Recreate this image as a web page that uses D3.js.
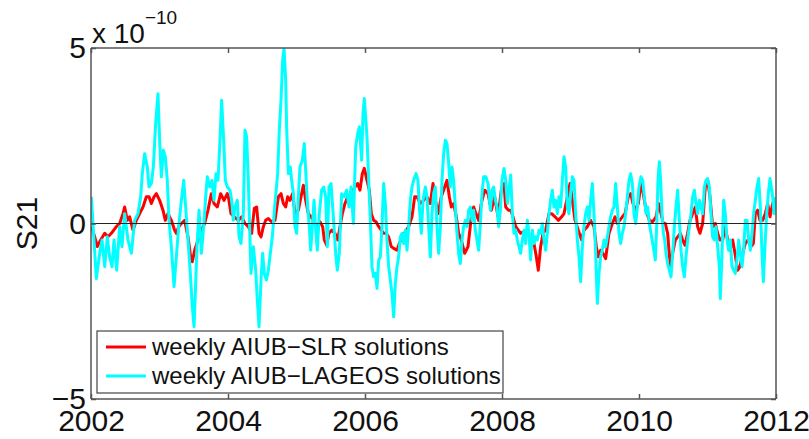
<!doctype html>
<html>
 <head>
 <title>S21</title>
	<script src="https://d3js.org/d3.v7.min.js"></script>
	<style>
body {
    margin: 0;
    background: #fff;
    font-family: 'Liberation Sans', Arial, Helvetica, sans-serif;
}
	</style>
  </head>
  <body>
    <div id="container"></div>
	 <script>

// year ticks on the x axis
var yearTicks = [2002, 2004, 2006, 2008, 2010, 2012];
var valueTicks = [-5, 0, 5];

// weekly AIUB-LAGEOS solutions (units of 1e-10)
var lageosTime = [
 2002.005,2002.078,2002.127,2002.161,2002.200,2002.238,2002.272,2002.307,2002.336,2002.375,2002.418,2002.453,2002.491,2002.540,2002.589,2002.637,2002.686,2002.725,2002.749,2002.783,2002.822,2002.847,2002.881,2002.910,2002.944,2002.978,
 2003.002,2003.027,2003.056,2003.085,2003.114,2003.139,2003.173,2003.212,2003.246,2003.280,2003.319,2003.353,2003.382,2003.416,2003.450,2003.479,2003.504,2003.523,2003.547,2003.577,2003.611,2003.645,2003.674,2003.698,2003.732,2003.766,2003.796,2003.825,2003.854,2003.883,2003.907,2003.937,2003.961,2003.990,
 2004.029,2004.054,2004.078,2004.102,2004.136,2004.161,2004.190,2004.224,2004.248,2004.272,2004.297,2004.321,2004.336,2004.370,2004.404,2004.428,2004.453,2004.482,2004.506,2004.530,2004.560,2004.589,2004.618,2004.647,2004.686,2004.725,2004.749,2004.774,2004.798,2004.818,2004.842,2004.856,2004.881,2004.910,2004.929,2004.954,2004.978,
 2005.002,2005.027,2005.051,2005.085,2005.114,2005.139,2005.163,2005.187,2005.207,2005.231,2005.256,2005.280,2005.304,2005.333,2005.367,2005.397,2005.426,2005.450,2005.474,2005.504,2005.538,2005.572,2005.596,2005.625,2005.659,2005.698,2005.732,2005.766,2005.796,2005.830,2005.864,2005.893,2005.917,2005.951,2005.971,2005.990,
 2006.029,2006.054,2006.078,2006.102,2006.127,2006.151,2006.175,2006.200,2006.224,2006.248,2006.272,2006.297,2006.321,2006.345,2006.370,2006.394,2006.418,2006.443,2006.467,2006.491,2006.516,2006.540,2006.564,2006.589,2006.613,2006.637,2006.662,2006.686,2006.710,2006.745,2006.774,2006.793,2006.822,2006.847,2006.881,2006.905,2006.929,2006.954,2006.978,
 2007.002,2007.027,2007.051,2007.075,2007.100,2007.124,2007.148,2007.173,2007.197,2007.221,2007.246,2007.270,2007.294,2007.319,2007.343,2007.367,2007.392,2007.416,2007.440,2007.465,2007.489,2007.513,2007.538,2007.562,2007.586,2007.611,2007.635,2007.659,2007.684,2007.708,2007.732,2007.766,2007.796,2007.830,2007.854,2007.878,2007.903,2007.927,2007.951,2007.976,
 2008.000,2008.029,2008.054,2008.078,2008.102,2008.127,2008.151,2008.175,2008.200,2008.224,2008.248,2008.272,2008.297,2008.321,2008.345,2008.370,2008.394,2008.418,2008.443,2008.467,2008.491,2008.516,2008.540,2008.564,2008.589,2008.613,2008.637,2008.662,2008.686,2008.710,2008.735,2008.759,2008.783,2008.808,2008.832,2008.856,2008.881,2008.905,2008.929,2008.954,2008.978,
 2009.002,2009.027,2009.051,2009.075,2009.100,2009.124,2009.148,2009.173,2009.197,2009.221,2009.246,2009.270,2009.294,2009.319,2009.343,2009.367,2009.392,2009.416,2009.440,2009.465,2009.489,2009.513,2009.538,2009.562,2009.586,2009.611,2009.635,2009.659,2009.684,2009.708,2009.732,2009.757,2009.781,2009.805,2009.830,2009.854,2009.878,2009.903,2009.927,2009.951,2009.976,
 2010.000,2010.029,2010.054,2010.078,2010.102,2010.127,2010.151,2010.175,2010.200,2010.224,2010.238,2010.258,2010.277,2010.297,2010.316,2010.336,2010.355,2010.375,2010.394,2010.418,2010.443,2010.467,2010.491,2010.516,2010.540,2010.564,2010.589,2010.613,2010.637,2010.662,2010.686,2010.710,2010.735,2010.759,2010.783,2010.808,2010.832,2010.856,2010.881,2010.905,2010.929,2010.954,2010.978,
 2011.002,2011.027,2011.051,2011.075,2011.100,2011.124,2011.148,2011.173,2011.187,2011.212,2011.236,2011.260,2011.285,2011.309,2011.333,2011.357,2011.382,2011.406,2011.431,2011.455,2011.479,2011.504,2011.528,2011.552,2011.577,2011.601,2011.625,2011.650,2011.674,2011.698,2011.723,2011.747,2011.771,2011.796,2011.815,2011.839,2011.864,2011.888,2011.912,2011.932,2011.951,2011.971,2011.990
];
var lageosValue = [
 0.76,-1.57,-0.85,-0.47,-1.23,-0.38,-0.95,-1.23,-0.47,-1.33,-0.09,-0.66,0.28,-0.47,-0.85,0.09,0.28,0.76,1.42,1.99,1.61,1.04,1.14,1.61,2.85,3.70,
 2.37,1.33,2.09,1.90,1.23,0.09,-0.66,-1.80,-0.95,-0.09,0.66,1.23,0.47,-0.47,-1.42,-2.37,-2.94,-1.99,-0.66,0.38,-0.85,-0.09,0.76,1.33,1.04,1.23,0.66,1.42,1.23,2.37,3.51,2.37,1.23,1.04,
 0.95,0.66,0.09,0.47,0.66,-0.38,-0.57,0.28,2.66,2.47,1.23,-0.47,-1.42,-0.66,-1.33,-2.18,-2.94,-1.61,-0.85,-1.42,-1.61,-1.33,-0.85,-0.38,0.57,1.42,2.66,3.51,4.65,4.99,4.08,2.75,1.42,1.61,1.23,0.85,-0.09,
 -0.28,0.76,1.61,1.80,2.28,1.33,0.47,-0.09,-0.76,-0.09,0.66,-0.19,-0.76,0.28,0.95,1.04,0.76,-0.66,1.04,1.14,0.19,-0.85,-1.33,-0.85,0.85,0.76,0.95,0.47,1.04,0.00,2.18,2.56,2.75,1.80,3.13,3.56,
 2.47,1.23,0.09,-1.23,-1.52,-1.42,-1.85,-1.04,-0.95,-0.09,1.14,0.57,-0.47,-1.23,-1.61,-1.99,-2.66,-1.71,-1.23,-0.95,-0.38,-0.28,-0.57,-0.19,-0.76,-0.09,0.66,1.04,1.23,1.42,1.23,0.47,-0.28,0.66,1.04,0.76,-0.09,-0.95,0.28,
 0.85,1.04,-0.09,-0.85,-0.09,1.23,1.99,2.37,2.28,1.71,1.04,1.61,1.23,0.47,-0.28,-0.85,-1.14,-0.47,-0.09,0.09,-0.09,0.38,0.47,0.09,0.38,-0.19,-0.47,-0.76,0.00,0.85,1.33,1.33,1.14,0.38,0.95,1.04,0.66,0.47,-0.09,0.38,
 1.23,1.57,1.23,0.57,0.95,1.38,0.28,-0.28,-0.19,-0.47,-0.66,-0.85,-0.47,-0.19,-0.57,0.09,-0.28,-1.04,-0.19,-0.57,-0.38,-0.47,-0.19,-0.28,0.00,-0.47,-0.76,-0.28,0.28,0.66,0.95,0.47,0.66,0.28,0.76,0.47,1.23,1.90,1.61,0.47,0.28,
 0.85,1.33,1.23,0.28,-0.47,-0.95,-1.66,-0.66,-0.09,0.28,0.47,0.09,0.66,1.14,0.28,-0.85,-2.28,-1.42,-0.95,-0.76,-0.47,-0.66,-0.38,-0.09,0.19,0.38,0.47,1.14,0.47,-0.28,-0.57,-0.28,-0.09,0.28,0.76,1.23,1.42,1.14,0.28,0.00,0.47,
 1.04,1.33,1.23,0.76,0.28,0.47,0.00,-0.28,-0.57,-0.85,-1.04,-0.09,1.23,1.76,1.23,0.28,-0.28,-0.47,-0.85,-1.14,-1.33,-1.52,-0.85,-0.09,0.47,0.95,0.09,-0.76,-1.23,-1.52,-0.95,-0.47,-0.09,0.28,0.76,0.95,0.57,0.28,0.66,0.47,0.28,1.04,1.23,
 1.28,1.04,0.28,-0.38,-0.47,-0.09,-0.66,-1.23,-2.14,-0.85,0.66,0.28,-0.47,-0.76,-0.47,-1.23,-1.33,-1.42,-1.04,-0.47,-0.85,-1.23,-0.76,0.09,0.09,-0.47,-0.76,-0.28,0.28,0.66,1.04,1.28,0.47,-0.85,-1.66,-0.66,0.28,0.85,1.28,1.04,0.76,0.28,0.76
];

// weekly AIUB-SLR solutions (units of 1e-10)
var slrTime = [
 2002.005,2002.054,2002.092,2002.141,2002.200,2002.248,2002.297,2002.370,2002.418,2002.467,2002.491,2002.530,2002.564,2002.613,2002.662,2002.710,2002.759,2002.808,2002.847,2002.881,2002.920,2002.954,
 2003.002,2003.051,2003.085,2003.124,2003.173,2003.221,2003.246,2003.280,2003.319,2003.367,2003.416,2003.455,2003.479,2003.513,2003.562,2003.611,2003.659,2003.708,2003.757,2003.796,2003.844,2003.893,2003.942,2003.990,
 2004.005,2004.044,2004.092,2004.151,2004.200,2004.248,2004.297,2004.345,2004.384,2004.418,2004.453,2004.482,2004.516,2004.550,2004.589,2004.637,2004.686,2004.735,2004.774,2004.808,2004.842,2004.871,2004.905,2004.944,2004.978,
 2005.027,2005.066,2005.100,2005.134,2005.173,2005.212,2005.246,2005.294,2005.343,2005.382,2005.406,2005.440,2005.474,2005.513,2005.562,2005.601,2005.635,2005.669,2005.708,2005.747,2005.796,2005.854,2005.893,2005.927,2005.961,2005.990,
 2006.029,2006.063,2006.092,2006.127,2006.161,2006.200,2006.238,2006.272,2006.307,2006.345,2006.384,2006.418,2006.467,2006.501,2006.540,2006.589,2006.637,2006.686,2006.725,2006.759,2006.808,2006.856,2006.905,2006.954,2006.993,
 2007.027,2007.066,2007.114,2007.163,2007.197,2007.231,2007.260,2007.294,2007.333,2007.367,2007.406,2007.455,2007.504,2007.552,2007.586,2007.620,2007.659,2007.698,2007.747,2007.796,2007.844,2007.893,2007.942,2007.990,
 2008.029,2008.054,2008.092,2008.127,2008.161,2008.200,2008.238,2008.272,2008.307,2008.345,2008.384,2008.418,2008.467,2008.501,2008.530,2008.564,2008.599,2008.637,2008.686,2008.725,2008.774,2008.822,2008.871,2008.905,2008.954,2008.993,
 2009.027,2009.066,2009.114,2009.163,2009.197,2009.246,2009.294,2009.343,2009.377,2009.406,2009.440,2009.474,2009.513,2009.562,2009.611,2009.650,2009.684,2009.718,2009.757,2009.796,2009.844,2009.878,2009.912,2009.951,2009.990,
 2010.029,2010.063,2010.102,2010.151,2010.200,2010.248,2010.287,2010.321,2010.355,2010.384,2010.418,2010.457,2010.491,2010.530,2010.564,2010.603,2010.637,2010.672,2010.710,2010.745,2010.783,2010.822,2010.856,2010.890,2010.929,2010.968,
 2011.002,2011.036,2011.075,2011.114,2011.148,2011.182,2011.221,2011.260,2011.294,2011.328,2011.367,2011.401,2011.440,2011.474,2011.513,2011.552,2011.591,2011.635,2011.669,2011.698,2011.732,2011.766,2011.805,2011.844,2011.878,2011.912,2011.951,2011.985
];
var slrValue = [
 -0.09,-0.38,-0.66,-0.47,-0.28,-0.38,-0.28,-0.09,0.00,0.28,0.47,0.09,0.19,-0.19,0.09,0.28,0.47,0.76,0.76,0.57,0.76,0.85,
 0.66,0.38,0.09,0.28,0.09,-0.19,-0.28,-0.09,0.00,0.09,-0.38,-0.95,-1.09,-0.76,-0.47,-0.19,0.00,0.38,0.85,0.57,0.47,0.85,0.66,0.85,
 0.76,0.28,0.19,0.09,0.19,0.00,-0.09,-0.28,0.43,0.47,-0.28,-0.38,-0.09,0.09,0.14,0.05,0.09,0.76,0.85,0.57,0.47,0.76,0.66,0.85,0.28,
 0.38,0.76,1.09,0.66,0.28,0.19,0.09,-0.09,0.05,-0.09,-0.47,-0.62,-0.28,-0.19,-0.28,-0.47,-0.09,0.28,0.57,0.76,0.85,1.04,1.14,0.95,1.42,1.57,
 1.23,0.95,0.28,0.09,0.05,-0.09,-0.19,-0.28,-0.28,-0.38,-0.66,-0.71,-0.76,-0.57,-0.38,-0.24,-0.09,0.19,0.76,0.76,0.57,0.66,0.76,0.57,1.14,
 0.66,0.28,0.76,1.04,1.23,0.76,0.47,0.57,0.19,-0.28,-0.47,-0.85,-0.66,0.19,0.47,0.28,0.09,0.57,0.95,0.85,0.38,0.76,0.19,0.95,
 1.14,0.47,0.38,0.38,0.19,-0.09,-0.19,-0.28,-0.24,-0.28,-0.28,-0.38,-0.57,-0.95,-1.33,-0.66,-0.28,-0.19,0.28,0.28,0.19,0.09,0.19,0.28,0.76,1.14,
 0.66,0.09,-0.19,-0.47,-0.19,-0.09,0.09,-0.09,-0.66,-0.95,-0.76,-0.85,-1.00,-0.28,0.00,0.19,0.00,0.09,0.19,0.28,0.76,0.85,0.57,0.38,0.57,
 1.14,0.85,0.38,0.09,0.05,0.19,0.57,0.28,0.00,0.00,-0.28,-1.23,-0.85,-0.47,-0.38,-0.28,-0.47,-0.62,-0.28,0.09,0.28,0.47,-0.09,-0.28,0.00,1.04,
 1.23,0.76,-0.09,0.00,-0.28,-0.47,-0.47,-0.09,-0.47,-0.76,-0.47,-0.85,-1.33,-1.23,-0.85,-0.57,-0.47,-0.66,-0.57,0.28,0.38,0.09,0.09,0.28,0.57,0.19,0.57,0.66
];

var seriesNames = ["weekly AIUB\u2212SLR solutions", "weekly AIUB\u2212LAGEOS solutions"];
var seriesColors = ["#ff0000", "#00ffff"];

var width = 809,
    height = 439;
var margin = {top: 48, right: 33, bottom: 40, left: 91};
var plotW = width - margin.left - margin.right,
    plotH = height - margin.top - margin.bottom;

var svg = d3.select("#container")
	.append("svg")
	.attr("width", width)
	.attr("height", height)
	.style("font-family", "'Liberation Sans', Arial, Helvetica, sans-serif");

var g = svg.append("g")
	.attr("transform", "translate(" + margin.left + "," + margin.top + ")");

var x = d3.scaleLinear().domain([2002, 2012]).range([0, plotW]);
var y = d3.scaleLinear().domain([-5, 5]).range([plotH, 0]);

g.append("clipPath").attr("id", "clip")
	.append("rect").attr("width", plotW).attr("height", plotH);

var line = d3.line()
	.x(function(d){ return x(d[0]); })
	.y(function(d){ return y(d[1]); });

var slr = d3.zip(slrTime, slrValue);
var lageos = d3.zip(lageosTime, lageosValue);

var lines = g.append("g").attr("clip-path", "url(#clip)");

lines.append("path")
	.datum(slr)
	.attr("fill", "none")
	.attr("stroke", seriesColors[0])
	.attr("stroke-width", 3)
	.attr("stroke-linejoin", "round")
	.attr("d", line);

lines.append("path")
	.datum(lageos)
	.attr("fill", "none")
	.attr("stroke", seriesColors[1])
	.attr("stroke-width", 3)
	.attr("stroke-linejoin", "round")
	.attr("d", line);

// zero line
g.append("line")
	.attr("x1", 0).attr("x2", plotW)
	.attr("y1", y(0)).attr("y2", y(0))
	.attr("stroke", "#222")
	.attr("stroke-width", 1);

// axes, matlab style box with inner ticks
var axisColor = "#555";

var axBottom = g.append("g")
	.attr("transform", "translate(0," + plotH + ")")
	.call(d3.axisBottom(x).tickValues(yearTicks).tickSize(-5).tickFormat(d3.format("d")));
var axTop = g.append("g")
	.call(d3.axisTop(x).tickValues(yearTicks).tickSize(-5).tickFormat(""));
var axLeft = g.append("g")
	.call(d3.axisLeft(y).tickValues(valueTicks).tickSize(-5)
		.tickFormat(function(d){ return d < 0 ? "\u2212" + Math.abs(d) : d; }));
var axRight = g.append("g")
	.attr("transform", "translate(" + plotW + ",0)")
	.call(d3.axisRight(y).tickValues(valueTicks).tickSize(-5).tickFormat(""));

[axBottom, axTop, axLeft, axRight].forEach(function(a){
	a.selectAll(".domain").attr("stroke", axisColor).attr("stroke-width", 1.5);
	a.selectAll(".tick line").attr("stroke", axisColor).attr("stroke-width", 1.5);
	a.selectAll("text").attr("fill", "#111").attr("font-size", 30).attr("font-family", null);
});
axBottom.select(".domain").attr("d", "M0,0H" + plotW);
axTop.select(".domain").attr("d", "M0,0H" + plotW);
axLeft.select(".domain").attr("d", "M0,0V" + plotH);
axRight.select(".domain").attr("d", "M0,0V" + plotH);
axBottom.selectAll("text").attr("y", 11);
axLeft.selectAll("text").attr("x", -5);

// exponent label
var expo = svg.append("text")
	.attr("x", margin.left + 1)
	.attr("y", 43)
	.attr("fill", "#111")
	.attr("font-size", 28);
expo.append("tspan").text("x 10");
expo.append("tspan").attr("dy", -19).attr("font-size", 19).text("\u221210");

// y label
svg.append("text")
	.attr("transform", "translate(37," + (margin.top + y(0)) + ") rotate(-90)")
	.attr("text-anchor", "middle")
	.attr("fill", "#111")
	.attr("font-size", 30)
	.text("S21");

// legend
var legend = g.append("g").attr("transform", "translate(6,283)");
legend.append("rect")
	.attr("width", 406).attr("height", 62)
	.attr("fill", "#fff")
	.attr("stroke", "#444")
	.attr("stroke-width", 1.2);

var items = legend.selectAll(".item")
	.data(seriesNames)
	.enter().append("g")
	.attr("class", "item")
	.attr("transform", function(d, i){ return "translate(0," + (16 + i * 29) + ")"; });

items.append("line")
	.attr("x1", 9).attr("x2", 49)
	.attr("stroke", function(d, i){ return seriesColors[i]; })
	.attr("stroke-width", 3);

items.append("text")
	.attr("x", 55)
	.attr("dy", "0.35em")
	.attr("fill", "#111")
	.attr("font-size", 24)
	.text(function(d){ return d; });

	</script>
  </body>
</html>
